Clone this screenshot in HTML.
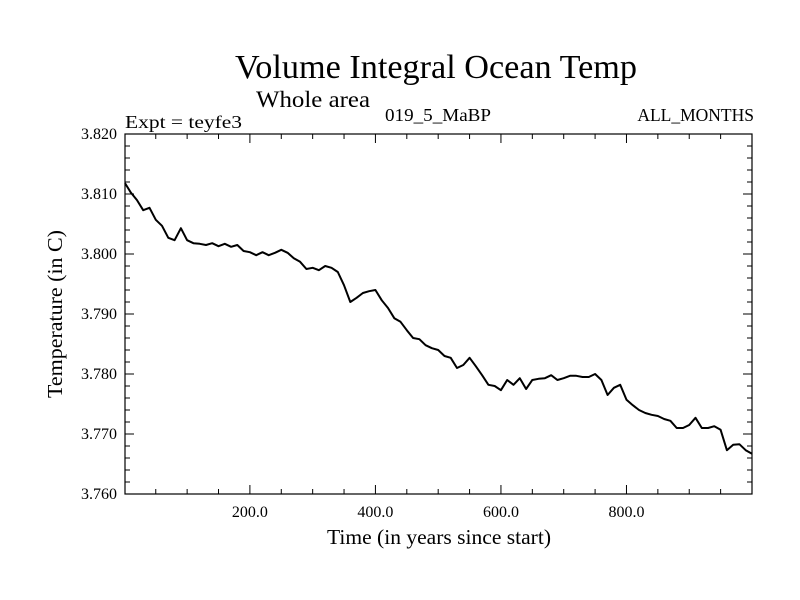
<!DOCTYPE html>
<html><head><meta charset="utf-8"><style>
body{margin:0;background:#fff}
svg{display:block;font-family:"Liberation Serif",serif}
</style></head><body>
<svg id="chart" width="800" height="600" viewBox="0 0 800 600">
<text x="436" y="78" font-size="34" text-anchor="middle" textLength="402" lengthAdjust="spacingAndGlyphs">Volume Integral Ocean Temp</text>
<text x="256" y="107" font-size="23" textLength="114" lengthAdjust="spacingAndGlyphs">Whole area</text>
<text x="125" y="128" font-size="17.5" textLength="117" lengthAdjust="spacingAndGlyphs">Expt = teyfe3</text>
<text x="385" y="121" font-size="17.5" textLength="106" lengthAdjust="spacingAndGlyphs">019_5_MaBP</text>
<text x="754" y="121" font-size="17.5" text-anchor="end">ALL_MONTHS</text>
<text transform="translate(62,314) rotate(-90)" font-size="21.5" text-anchor="middle" textLength="168" lengthAdjust="spacingAndGlyphs">Temperature (in C)</text>
<text x="439" y="544" font-size="21.5" text-anchor="middle" textLength="224" lengthAdjust="spacingAndGlyphs">Time (in years since start)</text>
<g id="axes"></g>
<rect x="125" y="134" width="627" height="360" fill="none" stroke="#000" stroke-width="1.2"/>
</svg>
<script>
const yTickLabels=["3.760","3.770","3.780","3.790","3.800","3.810","3.820"];
const xTickLabels=["200.0","400.0","600.0","800.0"];
const years=[];for(let i=0;i<=100;i++)years.push(i*10);
const temps=[3.8118,3.8103,3.8090,3.8073,3.8077,3.8057,3.8047,3.8027,3.8023,3.8043,3.8023,3.8018,3.8017,3.8015,3.8018,3.8013,3.8017,3.8012,3.8015,3.8005,3.8003,3.7998,3.8003,3.7998,3.8002,3.8007,3.8002,3.7993,3.7987,3.7975,3.7977,3.7973,3.7980,3.7977,3.7970,3.7948,3.7920,3.7927,3.7935,3.7938,3.7940,3.7923,3.7910,3.7893,3.7887,3.7873,3.7860,3.7858,3.7848,3.7843,3.7840,3.7830,3.7827,3.7810,3.7815,3.7827,3.7813,3.7798,3.7782,3.7780,3.7773,3.7790,3.7782,3.7793,3.7775,3.7790,3.7792,3.7793,3.7798,3.7790,3.7793,3.7797,3.7797,3.7795,3.7795,3.7800,3.7790,3.7765,3.7777,3.7782,3.7757,3.7748,3.7740,3.7735,3.7732,3.7730,3.7725,3.7722,3.7710,3.7710,3.7715,3.7727,3.7710,3.7710,3.7713,3.7707,3.7673,3.7682,3.7683,3.7673,3.7667];
const X0=125,X1=752,Y0=134,Y1=494,xMin=1,xMax=1000,yMin=3.76,yMax=3.82;
const sx=v=>X0+(v-xMin)/(xMax-xMin)*(X1-X0);
const sy=v=>Y1-(v-yMin)/(yMax-yMin)*(Y1-Y0);
const NS="http://www.w3.org/2000/svg";
const g=document.getElementById('axes');
function mk(t,a){const e=document.createElementNS(NS,t);for(const k in a)e.setAttribute(k,a[k]);g.appendChild(e);return e;}
for(let i=0;i<=30;i++){const v=yMin+i*0.002;const y=sy(v);const L=i%5===0?9:5;
 const t1=mk('line',{x1:X0,x2:X0+L,y1:y,y2:y,stroke:'#000'});
 
 
 const t2=mk('line',{x1:X1,x2:X1-L,y1:y,y2:y,stroke:'#000'});
 
 }
yTickLabels.forEach(s=>{const t=mk('text',{x:X0-8,y:sy(parseFloat(s))+5,'font-size':16,'text-anchor':'end'});t.textContent=s;
 
 });
for(let v=50;v<1000;v+=50){const x=sx(v);const L=v%200===0?9:5;
 const t1=mk('line',{x1:x,x2:x,y1:Y1,y2:Y1-L,stroke:'#000'});
 
 
 const t2=mk('line',{x1:x,x2:x,y1:Y0,y2:Y0+L,stroke:'#000'});
 
 }
xTickLabels.forEach(s=>{const t=mk('text',{x:sx(parseFloat(s)),y:Y1+23,'font-size':16,'text-anchor':'middle'});t.textContent=s;
 
 });
const pts=temps.map((v,i)=>sx(Math.max(xMin,years[i])).toFixed(1)+','+sy(v).toFixed(1)).join(' ');
const line=mk('polyline',{points:pts,fill:'none',stroke:'#000','stroke-width':2,'stroke-linejoin':'round'});


</script>
</body></html>
